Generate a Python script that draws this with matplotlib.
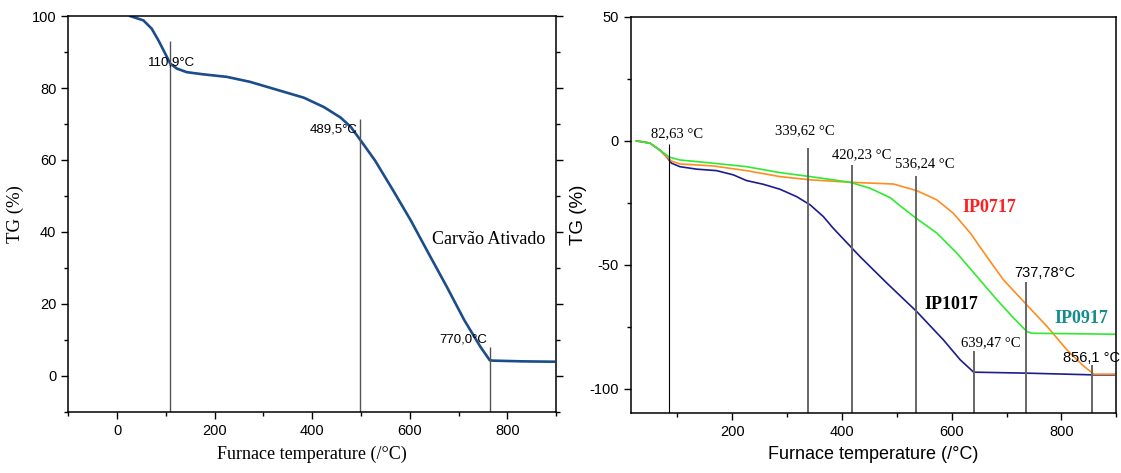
import matplotlib
matplotlib.use("Agg")
from matplotlib import pyplot as plt
from matplotlib.ticker import MultipleLocator
import numpy as np

plt.rcParams["axes.unicode_minus"] = False

# left panel: activated carbon TG curve
ca_temp = [27, 54, 71, 85, 98.6, 109, 122.6, 143, 177, 225, 273, 328, 383, 424, 458, 479,
           500, 529, 566, 602, 639, 676, 712, 745, 764, 771, 830, 895]
ca_tg = [100, 98.8, 96.5, 93.2, 89.6, 86.8, 85.4, 84.4, 83.8, 83.1, 81.7, 79.5, 77.3, 74.7, 71.8, 69.2,
         65.3, 59.8, 51.5, 43.2, 33.9, 24.7, 15.4, 8, 4.3, 4.2, 4.0, 3.9]
ca_marks = [109, 498, 765]
ca_mark_tops = [93.1, 71.5, 7.9]
ca_labels = ["110,9°C", "489,5°C", "770,0°C"]
ca_label_pos = [(112, 87.2), (444, 68.6), (709, 10.1)]

# right panel: IP samples
ip1017_temp = [25.6, 50, 68, 80, 89.4, 104.6, 135, 171.5, 202, 226, 256.6, 287, 317.5, 342, 366, 384,
               433, 482, 536.5, 585, 615.5, 640, 737, 859, 896]
ip1017_tg = [-0.1, -1, -3.8, -6.4, -9.1, -10.5, -11.5, -12.1, -13.8, -16.1, -17.6, -19.6, -22.6, -25.9, -30.6, -35.3,
             -46.8, -57.5, -69, -80.4, -88.4, -93.4, -93.8, -94.5, -94.5]
ip0717_temp = [25.6, 50, 68, 80, 89, 104.6, 165, 226, 287, 342, 415, 494, 536.5, 573, 603,
               634, 664, 694.5, 737, 774, 810, 837.6, 859, 898]
ip0717_tg = [-0.1, -1, -3.8, -6.4, -8.2, -9.4, -10.2, -12.1, -14.5, -15.8, -16.8, -17.5, -20.2, -23.9, -29.3,
             -37.3, -46.8, -56.2, -66.3, -75, -84.4, -90.4, -94.2, -94.2]
ip0917_temp = [25.6, 50, 68, 86, 104.6, 165, 226, 287, 342, 415, 451, 488, 506, 536.5, 573,
               609.5, 646, 682.5, 713, 737, 746, 898]
ip0917_tg = [-0.1, -1, -3.8, -6.7, -7.8, -9.1, -10.5, -12.9, -14.5, -16.8, -19.2, -23.0, -26.3, -31.5, -37.3,
             -45.4, -54.8, -64.2, -71.6, -77, -77.7, -78.1]
ip_marks = [84, 338, 418.5, 535, 640, 736, 855]
ip_mark_tops = [-1.3, -3.1, -9.8, -14.2, -85, -56.9, -90.5]
ip_labels = ["82,63 °C", "339,62 °C", "420,23 °C", "536,24 °C", "639,47 °C", "737,78°C", "856,1 °C"]
ip_label_pos = [(100, 3.0), (332, 3.9), (436, -5.8), (551, -9.5), (672, -81.7), (770, -53.2), (855, -87.7)]
ip_label_serif = [True, True, True, True, True, False, False]
sample_names = ["IP0717", "IP1017", "IP0917"]
sample_colors = ["#ff1f1f", "#000000", "#138c8c"]
sample_pos = [(668, -26.9), (600, -66.3), (836, -71.6)]

serif = "Liberation Serif"
sans = "Liberation Sans"
narrow = ["Liberation Sans Narrow", "Liberation Sans"]

fig = plt.figure(figsize=(11.21, 4.73), dpi=100)

def style_axes(ax, right_ticks):
	for s in ax.spines.values():
		s.set_linewidth(1.1)
	ax.tick_params(which="major", direction="out", length=5, width=1.0, labelsize=10.5, right=right_ticks)
	ax.tick_params(which="minor", direction="out", length=3, width=1.0, right=right_ticks)
	for lab in ax.get_xticklabels() + ax.get_yticklabels():
		lab.set_fontfamily(sans)

# ---- left
ax1 = fig.add_axes([0.0609, 0.1296, 0.4352, 0.8364])
ax1.plot(ca_temp, ca_tg, color="#1b4c8c", lw=1.9)
ax1.vlines(ca_marks, -10, ca_mark_tops, color="#555555", lw=1.0)
for lab, (x, y) in zip(ca_labels, ca_label_pos):
	ax1.text(x, y, lab, fontsize=9.5, family=narrow, ha="center", va="center")
ax1.text(761, 37.8, "Carvão Ativado", fontsize=13, family=serif, ha="center", va="center")
ax1.set_xlim(-100, 900)
ax1.set_ylim(-10, 100)
ax1.set_xticks([0, 200, 400, 600, 800])
ax1.xaxis.set_minor_locator(MultipleLocator(100))
ax1.set_yticks([0, 20, 40, 60, 80, 100])
ax1.yaxis.set_minor_locator(MultipleLocator(10))
style_axes(ax1, True)
ax1.set_xlabel("Furnace temperature (/°C)", fontsize=13, family=serif, labelpad=6)
ax1.set_ylabel("TG (%)", fontsize=13.5, family=serif, labelpad=6)

# ---- right
ax2 = fig.add_axes([0.5626, 0.1262, 0.4332, 0.8385])
ax2.plot(ip1017_temp, ip1017_tg, color="#1c1c8c", lw=1.2)
ax2.plot(ip0717_temp, ip0717_tg, color="#ff8c1e", lw=1.2)
ax2.plot(ip0917_temp, ip0917_tg, color="#2fea2f", lw=1.2)
ax2.vlines(ip_marks[0], -110, ip_mark_tops[0], color="black", lw=0.8)
ax2.vlines(ip_marks[1:], -110, ip_mark_tops[1:], color="#666666", lw=1.4)
for lab, (x, y), is_serif in zip(ip_labels, ip_label_pos, ip_label_serif):
	ax2.text(x, y, lab, fontsize=10.5, family=serif if is_serif else sans,
		ha="center", va="center", clip_on=False)
for name, c, (x, y) in zip(sample_names, sample_colors, sample_pos):
	ax2.text(x, y, name, fontsize=13, family=serif, weight="bold", color=c, ha="center", va="center")
ax2.set_xlim(15, 900)
ax2.set_ylim(-110, 50)
ax2.set_xticks([200, 400, 600, 800])
ax2.xaxis.set_minor_locator(MultipleLocator(100))
ax2.set_yticks([-100, -50, 0, 50])
ax2.yaxis.set_minor_locator(MultipleLocator(25))
style_axes(ax2, False)
ax2.set_xlabel("Furnace temperature (/°C)", fontsize=13, family=sans, labelpad=5)
ax2.set_ylabel("TG (%)", fontsize=13.5, family=sans, labelpad=2)

fig.savefig("out.png", dpi=100)
